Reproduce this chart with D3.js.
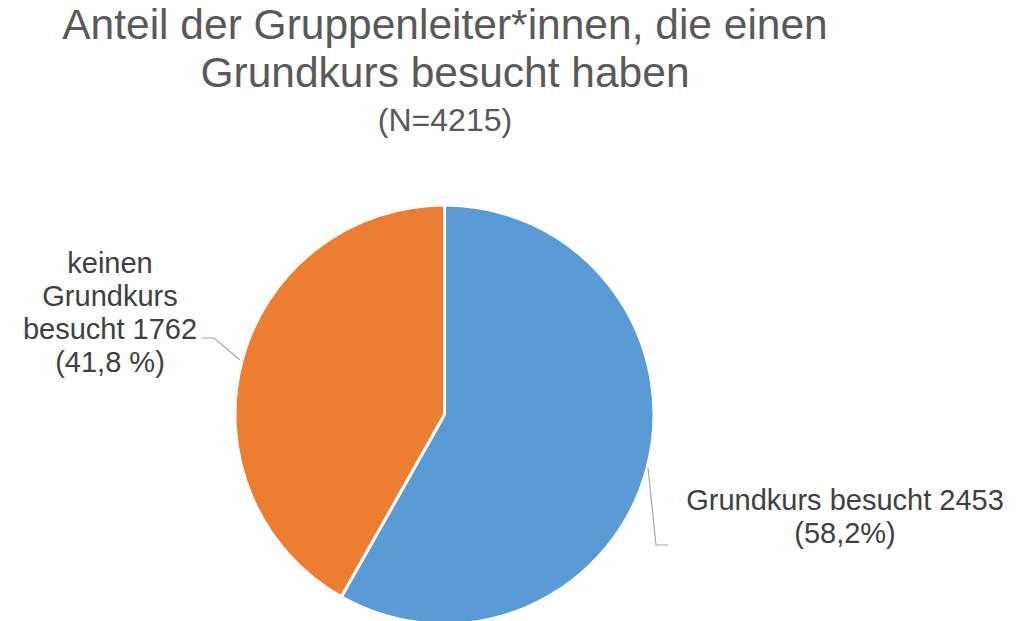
<!DOCTYPE html>
<html><head><meta charset="utf-8">
<script src="https://cdn.jsdelivr.net/npm/d3@7"></script>
<style>body{margin:0;background:#fff}svg{display:block}</style>
</head><body>
<svg id="c" width="1030" height="621"></svg>
<script>
const categories = ["Grundkurs besucht", "keinen Grundkurs besucht"];
const values = [2453, 1762];
const percentLabels = ["58,2%", "41,8 %"];
const colors = ["#5B9BD5", "#ED7D31"];
const titleLines = ["Anteil der Gruppenleiter*innen, die einen", "Grundkurs besucht haben"];
const subtitle = "(N=4215)";

const svg = d3.select("#c");
const font = "'Liberation Sans', Arial, sans-serif";
const cx = 444.5, cy = 414.5, r = 209.5;

const t = svg.append("g").attr("font-family", font).attr("fill", "#595959").attr("text-anchor", "middle");
t.append("text").attr("x", 445).attr("y", 39).attr("font-size", 42.5).text(titleLines[0]);
t.append("text").attr("x", 445).attr("y", 87).attr("font-size", 42.5).text(titleLines[1]);
t.append("text").attr("x", 445).attr("y", 131).attr("font-size", 32).text(subtitle);

const pie = d3.pie().sort(null).value(d => d)(values);
const arc = d3.arc().innerRadius(0).outerRadius(r);
const g = svg.append("g").attr("transform", `translate(${cx},${cy})`);
g.selectAll("path").data(pie).join("path")
  .attr("d", arc).attr("fill", (d, i) => colors[i])
  .attr("stroke", "#fff").attr("stroke-width", 3).attr("stroke-linejoin", "round");

// leader lines
const lc = "#a6a6a6";
svg.append("polyline").attr("points", "202,338 214,338 240,360").attr("fill", "none").attr("stroke", lc).attr("stroke-width", 1.2);
svg.append("polyline").attr("points", "648,468 656,545 668,545").attr("fill", "none").attr("stroke", lc).attr("stroke-width", 1.2);

const lab = svg.append("g").attr("font-family", font).attr("fill", "#404040").attr("font-size", 29).attr("text-anchor", "middle");
const leftLines = ["keinen", "Grundkurs", "besucht " + values[1], "(" + percentLabels[1] + ")"];
leftLines.forEach((s, i) => lab.append("text").attr("x", 110).attr("y", 273 + i * 33).text(s));
const rightLines = [categories[0] + " " + values[0], "(" + percentLabels[0] + ")"];
rightLines.forEach((s, i) => lab.append("text").attr("x", 845).attr("y", 510 + i * 33).text(s));
</script>
</body></html>
